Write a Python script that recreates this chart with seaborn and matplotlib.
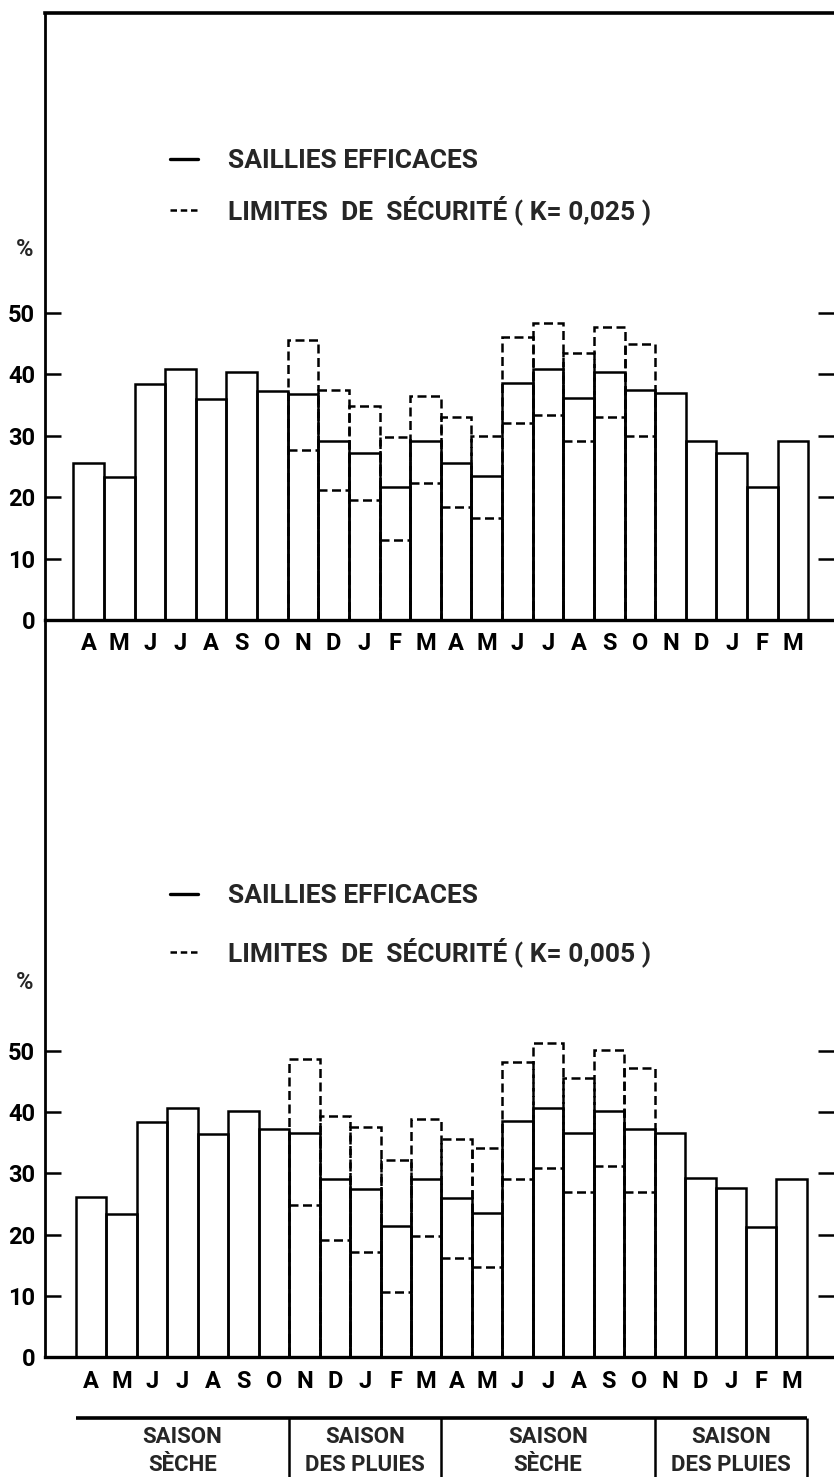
import numpy as np
import pandas as pd
import matplotlib
matplotlib.use("Agg")
import matplotlib.pyplot as plt
import seaborn as sns
from matplotlib.lines import Line2D

nan = np.nan

# ---------------- data ----------------
months = ["A", "M", "J", "J", "A", "S", "O", "N", "D", "J", "F", "M",
          "A", "M", "J", "J", "A", "S", "O", "N", "D", "J", "F", "M"]

# panel 1 (K = 0,025)
top_eff = [25.6, 23.3, 38.4, 40.8, 36.0, 40.4, 37.2, 36.7, 29.2, 27.1, 21.6, 29.1,
           25.6, 23.4, 38.5, 40.9, 36.2, 40.3, 37.4, 36.9, 29.2, 27.2, 21.6, 29.1]
top_upper = [nan] * 7 + [45.6, 37.5, 34.8, 29.8, 36.5, 33.1, 29.9, 46.1, 48.3, 43.5, 47.7, 44.9] + [nan] * 5
top_lower = [nan] * 7 + [27.6, 21.1, 19.5, 13.0, 22.3, 18.4, 16.6, 32.1, 33.3, 29.2, 33.0, 30.0] + [nan] * 5

# panel 2 (K = 0,005)
bot_eff = [26.1, 23.3, 38.4, 40.7, 36.4, 40.2, 37.3, 36.5, 29.0, 27.4, 21.4, 29.0,
           26.0, 23.6, 38.5, 40.7, 36.5, 40.2, 37.2, 36.6, 29.2, 27.6, 21.3, 29.1]
bot_upper = [nan] * 7 + [48.7, 39.4, 37.5, 32.2, 38.8, 35.6, 34.1, 48.1, 51.2, 45.5, 50.1, 47.1] + [nan] * 5
bot_lower = [nan] * 7 + [24.8, 19.2, 17.2, 10.7, 19.8, 16.2, 14.7, 29.0, 30.8, 27.0, 31.2, 27.0] + [nan] * 5

yticks = [0, 10, 20, 30, 40, 50]
legend_labels_top = ["SAILLIES EFFICACES", "LIMITES  DE  SÉCURITÉ ( K= 0,025 )"]
legend_labels_bot = ["SAILLIES EFFICACES", "LIMITES  DE  SÉCURITÉ ( K= 0,005 )"]

season_edges = [-0.5, 6.5, 11.5, 18.5, 23.5]
season_line1 = ["SAISON", "SAISON", "SAISON", "SAISON"]
season_line2 = ["SÈCHE", "DES PLUIES", "SÈCHE", "DES PLUIES"]

# ---------------- style ----------------
sns.set_style("ticks")
plt.rcParams["font.family"] = ["Roboto", "DejaVu Sans"]
plt.rcParams["font.weight"] = "bold"

W, H = 834, 1477
fig = plt.figure(figsize=(W / 100, H / 100), dpi=100)


def fx(px):
    return px / W


def fy(py):
    return 1 - py / H


DASH = (0, (3.6, 1.8))


def panel(ax, eff, upper, lower, xlim, ytop, labels, leg_anchor, labelspacing, pct_y):
    idx = np.arange(len(eff))
    df = pd.DataFrame({"i": idx, "eff": eff, "up": upper, "lo": lower})
    dup = df.dropna(subset=["up"])
    sns.barplot(data=dup, x="i", y="up", native_scale=True, width=1, fill=False,
                color="black", linewidth=1.8, linestyle=DASH, errorbar=None,
                ax=ax, zorder=1)
    sns.barplot(data=df, x="i", y="eff", native_scale=True, width=1, fill=False,
                color="black", linewidth=1.8, errorbar=None, ax=ax, zorder=2)
    dlo = df.dropna(subset=["lo"])
    ax.hlines(dlo["lo"], dlo["i"] - 0.5, dlo["i"] + 0.5, colors="black",
              linestyles=DASH, linewidth=1.8, zorder=3)

    ax.set_xlim(*xlim)
    ax.set_ylim(0, ytop)
    ax.set_xticks(idx)
    ax.set_xticklabels(months)
    ax.set_yticks(yticks)
    ax.set_yticklabels([str(v) for v in yticks])
    ax.tick_params(axis="y", direction="in", length=11.5, width=1.8, left=True,
                   right=True, labelsize=17, pad=7, colors="black")
    ax.tick_params(axis="x", length=0, labelsize=17, pad=9, colors="black")
    ax.set_xlabel("")
    ax.set_ylabel("%", rotation=0, fontsize=17, fontweight="bold")
    ax.yaxis.set_label_coords(-0.026, pct_y)
    ax.spines["right"].set_visible(False)
    ax.spines["left"].set_linewidth(2.0)
    ax.spines["bottom"].set_linewidth(2.4)
    for s in ax.spines.values():
        s.set_color("black")
    ax.patch.set_facecolor("none")

    handles = [Line2D([], [], color="black", lw=2.4),
               Line2D([], [], color="black", lw=1.8, linestyle=(0, (2.6, 1.5)))]
    ax.legend(handles, labels, loc="upper left", bbox_to_anchor=leg_anchor,
              frameon=False, prop={"size": 19, "weight": "bold"},
              handlelength=1.05, handletextpad=1.15, labelspacing=labelspacing,
              borderpad=0, borderaxespad=0)


# bottom panel first (so top panel's labels sit above it): y from 620 px to 1357 px
ax2 = fig.add_axes([fx(45), fy(1357.3), fx(834) - fx(45), fy(620) - fy(1357.3)])
panel(ax2, bot_eff, bot_upper, bot_lower, (-1.517, 24.39), (1357.3 - 620) / 6.132,
      legend_labels_bot, (0.1584, 0.642), 1.1, 0.493)
ax2.spines["top"].set_visible(False)

# top panel: y from 13 px to 620 px
ax1 = fig.add_axes([fx(45), fy(620), fx(834) - fx(45), fy(13) - fy(620)])
panel(ax1, top_eff, top_upper, top_lower, (-1.424, 24.34), (620 - 13) / 6.146,
      legend_labels_top, (0.1584, 0.776), 0.83, 0.592)
ax1.spines["top"].set_visible(True)
ax1.spines["top"].set_linewidth(2.6)

# season table
ax3 = fig.add_axes([fx(45), 0, fx(834) - fx(45), fy(1418)])
ax3.set_xlim(-1.517, 24.39)
ax3.set_ylim(0, 1)
ax3.axis("off")
ax3.hlines(1, season_edges[0], season_edges[-1], colors="black", linewidth=2.6, clip_on=False)
ax3.vlines(season_edges[1:], 0, 1, colors="black", linewidth=1.8, clip_on=False)
for a, b, l1, l2 in zip(season_edges[:-1], season_edges[1:], season_line1, season_line2):
    c = (a + b) / 2
    ax3.text(c, 0.68, l1, ha="center", va="center", fontsize=16, fontweight="bold")
    ax3.text(c, 0.20, l2, ha="center", va="center", fontsize=16, fontweight="bold")

fig.savefig("out.png", dpi=100)
